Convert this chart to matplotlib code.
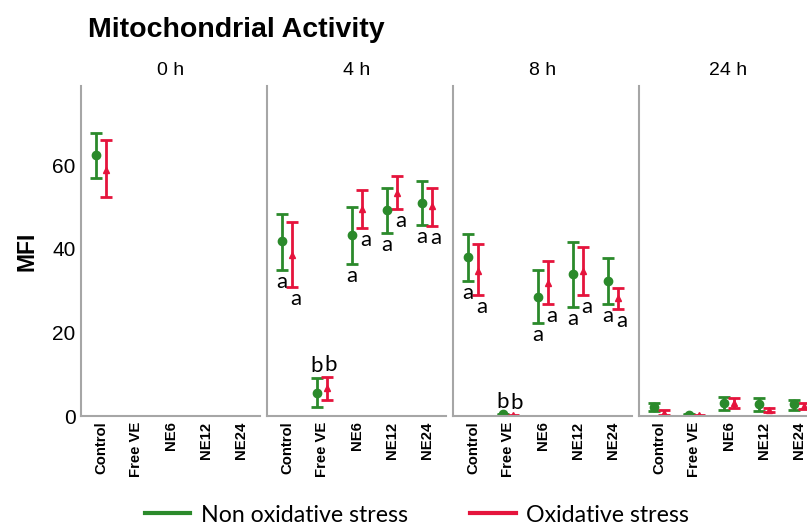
#!/usr/bin/env python3

import numpy as np
import matplotlib
matplotlib.use('Agg')
import matplotlib.pyplot as plt
from matplotlib.lines import Line2D

# data (MFI, mean and error bar ends)
times = ['0 h', '4 h', '8 h', '24 h']
categories = ['Control', 'Free VE', 'NE6', 'NE12', 'NE24']
nan = np.nan

non_mean = [[62.4, nan, nan, nan, nan],
            [41.8, 5.6, 43.4, 49.2, 51.0],
            [38.0, 0.4, 28.6, 34.0, 32.2],
            [2.2, 0.3, 3.2, 2.8, 2.8]]
non_low = [[57.0, nan, nan, nan, nan],
           [35.0, 2.2, 36.4, 43.8, 45.8],
           [32.2, 0.3, 22.2, 26.2, 26.8],
           [1.2, 0.2, 1.4, 1.3, 1.4]]
non_high = [[67.8, nan, nan, nan, nan],
            [48.4, 9.0, 50.0, 54.5, 56.2],
            [43.6, 0.5, 35.0, 41.7, 37.8],
            [3.2, 0.4, 4.6, 4.2, 3.8]]

ox_mean = [[59.0, nan, nan, nan, nan],
           [38.6, 6.6, 49.6, 53.4, 50.2],
           [34.8, 0.2, 31.8, 34.6, 28.2],
           [0.8, 0.2, 3.2, 1.4, 2.4]]
ox_low = [[52.4, nan, nan, nan, nan],
          [31.0, 3.8, 45.0, 49.5, 45.6],
          [29.0, 0.1, 26.8, 29.0, 25.7],
          [0.3, 0.1, 1.8, 0.9, 1.6]]
ox_high = [[66.0, nan, nan, nan, nan],
           [46.4, 9.4, 54.2, 57.4, 54.6],
           [41.2, 0.3, 37.0, 40.4, 30.6],
           [1.4, 0.3, 4.4, 1.9, 3.2]]

# significance letters (same for both groups here)
letters = [['', '', '', '', ''],
           ['a', 'b', 'a', 'a', 'a'],
           ['a', 'b', 'a', 'a', 'a'],
           ['', '', '', '', '']]

green = '#2b8a2b'
red = '#e5143c'
spine_col = '#a6a6a6'

W, H = 807, 527
fig = plt.figure(figsize=(W / 100, H / 100), dpi=100)

ax_left, ax_w, ax_step = 81, 179, 186
ax_bot, ax_top = 416, 86
dodge = 0.145
x = np.arange(len(categories))

fig.text(88 / W, 1 - 30 / H, 'Mitochondrial Activity', fontsize=20.5,
         fontweight='bold', family='Liberation Sans', va='center', ha='left')

for i, t in enumerate(times):
    ax = fig.add_axes([(ax_left + i * ax_step) / W, (H - ax_bot) / H,
                       ax_w / W, (ax_bot - ax_top) / H])
    for mean, low, high, col, mk, ms, sh in [
            (non_mean, non_low, non_high, green, 'o', 6, -dodge),
            (ox_mean, ox_low, ox_high, red, '^', 4.5, dodge)]:
        m = np.array(mean[i])
        err = np.vstack([m - np.array(low[i]), np.array(high[i]) - m])
        ax.errorbar(x + sh, m, yerr=err, fmt=mk, color=col, ms=ms,
                    elinewidth=2, capsize=4.5, capthick=2, lw=0)
        for j, lab in enumerate(letters[i]):
            if not lab:
                continue
            xoff = 0 if col == green else 4
            if lab == 'b':
                ax.annotate(lab, (x[j] + sh, high[i][j]), xytext=(xoff, 12),
                            textcoords='offset pixels', ha='center',
                            va='center', fontsize=16, family='Lato')
            else:
                ax.annotate(lab, (x[j] + sh, low[i][j]), xytext=(xoff, -12),
                            textcoords='offset pixels', ha='center',
                            va='center', fontsize=16, family='Lato')

    ax.set_xlim(-0.57, -0.57 + ax_w / 35)
    ax.set_ylim(0, 79)
    ax.set_xticks(x)
    ax.set_xticklabels(categories, rotation=90, fontsize=10.7,
                       fontweight='bold', family='Liberation Sans')
    ax.set_yticks([0, 20, 40, 60])
    ax.tick_params(length=0, pad=4)
    if i == 0:
        ax.set_yticklabels(['0', '20', '40', '60'], fontsize=15,
                           family='Liberation Sans')
        ax.set_ylabel('MFI', fontsize=16.5, fontweight='bold',
                      family='Liberation Sans', labelpad=10)
    else:
        ax.set_yticklabels([])
    ax.set_title(t, fontsize=14, family='Liberation Sans', pad=8)
    for s in ['top', 'right']:
        ax.spines[s].set_visible(False)
    for s in ['left', 'bottom']:
        ax.spines[s].set_color(spine_col)
        ax.spines[s].set_linewidth(1.5)

handles = [Line2D([], [], color=green, lw=3), Line2D([], [], color=red, lw=3)]
fig.legend(handles, ['Non oxidative stress', 'Oxidative stress'],
           loc='center', bbox_to_anchor=(417 / W, 1 - 515 / H), ncol=2,
           frameon=False, prop={'family': 'Lato', 'size': 16.7},
           handlelength=1.95, columnspacing=2.7, handletextpad=0.45)

fig.savefig('out.png', dpi=100)
